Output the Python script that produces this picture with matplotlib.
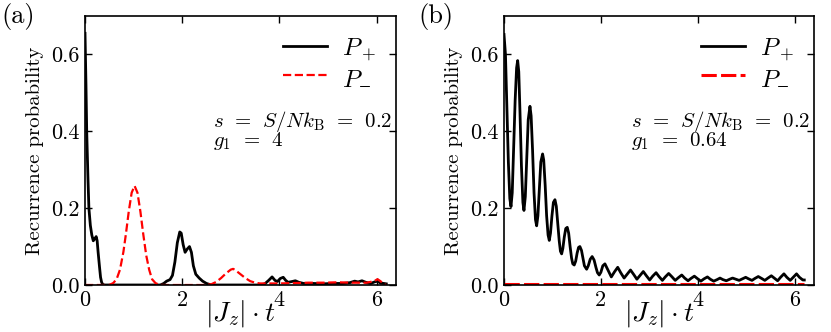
import matplotlib.pyplot as plt

plt.rcParams['font.family'] = 'cmr10'
plt.rcParams['mathtext.fontset'] = 'cm'
plt.rcParams['axes.formatter.use_mathtext'] = True

# panel (a): g1 = 4
ta_plus = [0.0, 0.02, 0.035, 0.06, 0.08, 0.11, 0.14, 0.17, 0.2, 0.23, 0.25, 0.27, 0.3, 0.32, 0.34, 0.36, 0.4,
           1.0, 1.55, 1.62, 1.68, 1.75, 1.8, 1.85, 1.9, 1.95, 1.98, 2.02, 2.06, 2.1, 2.15, 2.19, 2.23, 2.28,
           2.35, 2.42, 2.5, 2.6, 3.0, 3.6, 3.7, 3.78, 3.85, 3.91, 3.96, 4.02, 4.08, 4.13, 4.18, 4.26, 4.33,
           4.4, 4.5, 4.7, 4.9, 5.1, 5.3, 5.45, 5.55, 5.62, 5.7, 5.78, 5.88, 5.96, 6.02, 6.08, 6.15, 6.2]
pa_plus = [0.655, 0.52, 0.40, 0.28, 0.20, 0.155, 0.13, 0.115, 0.12, 0.126, 0.115, 0.085, 0.045, 0.02, 0.008, 0.002, 0.0,
           0.0, 0.0, 0.004, 0.01, 0.014, 0.025, 0.06, 0.11, 0.138, 0.135, 0.105, 0.085, 0.093, 0.1, 0.085, 0.05, 0.028,
           0.018, 0.01, 0.004, 0.0, 0.0, 0.0, 0.003, 0.012, 0.021, 0.012, 0.009, 0.017, 0.02, 0.012, 0.007, 0.009, 0.011,
           0.007, 0.004, 0.004, 0.003, 0.004, 0.004, 0.006, 0.01, 0.008, 0.011, 0.007, 0.004, 0.008, 0.01, 0.005, 0.004, 0.003]

ta_minus = [0.0, 0.5, 0.58, 0.65, 0.72, 0.79, 0.84, 0.9, 0.96, 1.02, 1.08, 1.14, 1.2, 1.26, 1.32, 1.38, 1.45, 1.52,
            1.6, 2.5, 2.6, 2.7, 2.8, 2.9, 3.0, 3.05, 3.1, 3.2, 3.3, 3.4, 3.5, 3.6, 3.8, 4.0, 4.3, 4.6, 4.9, 5.2,
            5.5, 5.8, 5.95, 6.02, 6.08, 6.15, 6.2]
pa_minus = [0.0, 0.0, 0.005, 0.015, 0.04, 0.086, 0.131, 0.191, 0.24, 0.258, 0.24, 0.191, 0.131, 0.077, 0.04, 0.015, 0.005, 0.001,
            0.0, 0.0, 0.002, 0.008, 0.018, 0.03, 0.04, 0.042, 0.038, 0.028, 0.018, 0.01, 0.006, 0.004, 0.004, 0.004, 0.005, 0.006, 0.006, 0.007,
            0.006, 0.006, 0.01, 0.015, 0.01, 0.002, 0.0]

# panel (b): g1 = 0.64
tb_plus = [0.0, 0.03, 0.06, 0.09, 0.12, 0.144, 0.17, 0.2, 0.23, 0.26, 0.282, 0.305, 0.33, 0.36, 0.39, 0.412,
           0.44, 0.47, 0.5, 0.536, 0.56, 0.59, 0.62, 0.65, 0.674, 0.7, 0.73, 0.76, 0.797, 0.82, 0.85, 0.88,
           0.91, 0.935, 0.96, 0.99, 1.02, 1.052, 1.08, 1.11, 1.14, 1.165, 1.19, 1.215, 1.245, 1.275, 1.306,
           1.335, 1.365, 1.395, 1.42, 1.45, 1.48, 1.51, 1.54, 1.567, 1.6, 1.63, 1.66, 1.706, 1.74, 1.78, 1.82,
           1.86, 1.9, 1.93, 1.966, 2.0, 2.04, 2.084, 2.15, 2.216, 2.28, 2.348, 2.41, 2.48, 2.55, 2.612, 2.68,
           2.744, 2.81, 2.876, 2.94, 3.008, 3.07, 3.14, 3.2, 3.27, 3.33, 3.4, 3.47, 3.535, 3.6, 3.67, 3.73,
           3.8, 3.86, 3.93, 4.0, 4.065, 4.13, 4.2, 4.26, 4.33, 4.4, 4.46, 4.52, 4.59, 4.66, 4.72, 4.79, 4.855,
           4.92, 4.99, 5.05, 5.12, 5.18, 5.25, 5.32, 5.385, 5.45, 5.52, 5.58, 5.65, 5.71, 5.78, 5.84, 5.91,
           5.97, 6.04, 6.1, 6.17, 6.2]
pb_plus = [0.652, 0.60, 0.46, 0.32, 0.225, 0.204, 0.24, 0.36, 0.48, 0.565, 0.584, 0.555, 0.45, 0.31, 0.215, 0.194,
           0.23, 0.33, 0.43, 0.465, 0.44, 0.35, 0.24, 0.17, 0.154, 0.18, 0.25, 0.32, 0.341, 0.325, 0.26, 0.18,
           0.13, 0.116, 0.135, 0.18, 0.215, 0.222, 0.205, 0.16, 0.115, 0.088, 0.081, 0.095, 0.125, 0.147, 0.15,
           0.135, 0.1, 0.07, 0.055, 0.052, 0.062, 0.083, 0.098, 0.1, 0.09, 0.07, 0.05, 0.041, 0.05, 0.067, 0.074,
           0.065, 0.045, 0.032, 0.026, 0.033, 0.05, 0.055, 0.038, 0.021, 0.034, 0.046, 0.032, 0.018, 0.029, 0.039, 0.027,
           0.015, 0.025, 0.035, 0.024, 0.013, 0.023, 0.032, 0.022, 0.012, 0.021, 0.03, 0.021, 0.012, 0.019, 0.026, 0.018,
           0.011, 0.017, 0.023, 0.016, 0.01, 0.016, 0.021, 0.015, 0.01, 0.014, 0.018, 0.014, 0.011, 0.015, 0.018, 0.015, 0.012,
           0.016, 0.02, 0.016, 0.012, 0.017, 0.022, 0.017, 0.012, 0.018, 0.024, 0.018, 0.011, 0.02, 0.029, 0.02, 0.012,
           0.02, 0.029, 0.02, 0.013, 0.013]

tb_minus = [0.0, 6.2]
pb_minus = [0.003, 0.003]

x_ticks = [0, 2, 4, 6]
x_ticklabels = ['0', '2', '4', '6']
y_ticks = [0.0, 0.2, 0.4, 0.6]
y_ticklabels = ['0.0', '0.2', '0.4', '0.6']

panels = [
    ('(a)', ta_plus, pa_plus, ta_minus, pa_minus, '$g_1\\;\\,=\\;\\,4$', 1.6, None),
    ('(b)', tb_plus, pb_plus, tb_minus, pb_minus, '$g_1\\;\\,=\\;\\,0.64$', 2.2, (5, 1.4)),
]

fig = plt.figure(figsize=(8.31, 3.32), dpi=100)
ax1 = fig.add_axes([0.1023, 0.1416, 0.3742, 0.8102])
ax2 = fig.add_axes([0.6065, 0.1416, 0.3730, 0.8102])
label_x = [0.002, 0.503]

for ax, (tag, tp, pp, tm, pm, gtext, red_lw, dashes), lx in zip([ax1, ax2], panels, label_x):
    ax.plot(tp, pp, color='black', lw=2.0, label='$P_+$')
    if dashes is None:
        ax.plot(tm, pm, color='red', lw=red_lw, ls='--', label='$P_{\\minus}$')
    else:
        ax.plot(tm, pm, color='red', lw=red_lw, dashes=dashes, label='$P_{\\minus}$')

    ax.set_xlim(0, 6.4)
    ax.set_ylim(0, 0.7)
    ax.set_xticks(x_ticks)
    ax.set_xticklabels(x_ticklabels)
    ax.set_yticks(y_ticks)
    ax.set_yticklabels(y_ticklabels)
    ax.tick_params(direction='in', top=True, right=True, length=5, width=1, labelsize=16, pad=4)
    for sp in ax.spines.values():
        sp.set_linewidth(1.2)

    ax.set_xlabel('$|J_z|\\cdot t$', fontsize=20, labelpad=-9)
    ax.set_ylabel('Recurrence probability', fontsize=15)
    ax.yaxis.set_label_coords(-0.132, 0.5)

    ax.text(0.41, 0.587, '$s\\;\\,=\\;\\,S/Nk_{\\mathrm{B}}\\;\\,=\\;\\,0.2$', transform=ax.transAxes,
            fontsize=15, va='baseline')
    ax.text(0.41, 0.515, gtext, transform=ax.transAxes, fontsize=15, va='baseline')

    ax.legend(loc='upper right', frameon=False, fontsize=18, handlelength=1.75, handletextpad=0.6,
              labelspacing=0.15, borderaxespad=0.4)
    fig.text(lx, 0.99, tag, fontsize=19, va='top', ha='left')

fig.savefig('out.png', dpi=100)
